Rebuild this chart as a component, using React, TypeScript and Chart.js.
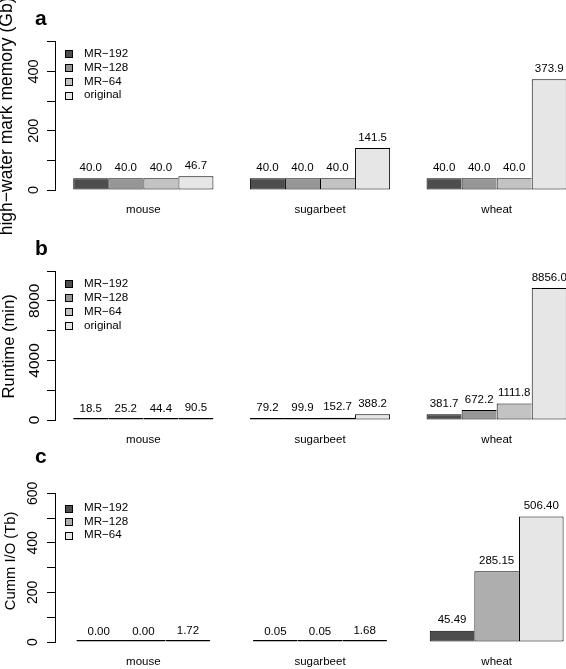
import React, { useEffect, useRef } from 'react';
import { Chart, registerables } from 'chart.js';

Chart.register(...registerables);

// ---------- data ----------
const categories = ['mouse', 'sugarbeet', 'wheat'];

const seriesNames4 = ['MR\u2212192', 'MR\u2212128', 'MR\u221264', 'original'];
const seriesNames3 = ['MR\u2212192', 'MR\u2212128', 'MR\u221264'];

// (a) high-water mark memory (Gb)
const memMR192 = [40.0, 40.0, 40.0];
const memMR128 = [40.0, 40.0, 40.0];
const memMR64 = [40.0, 40.0, 40.0];
const memOriginal = [46.7, 141.5, 373.9];

// (b) runtime (min)
const runMR192 = [18.5, 79.2, 381.7];
const runMR128 = [25.2, 99.9, 672.2];
const runMR64 = [44.4, 152.7, 1111.8];
const runOriginal = [90.5, 388.2, 8856.0];

// (c) cumulative I/O (Tb)
const ioMR192 = [0.0, 0.05, 45.49];
const ioMR128 = [0.0, 0.05, 285.15];
const ioMR64 = [1.72, 1.68, 506.4];

// y-axis tick marks / labels
const memTickStep = 100;
const memAxisMax = 500;
const memTickLabels = [0, 200, 400];
const runTickStep = 2000;
const runAxisMax = 10000;
const runTickLabels = [0, 4000, 8000];
const ioTickStep = 100;
const ioAxisMax = 600;
const ioTickLabels = [0, 200, 400, 600];

// ---------- styles ----------
const FONT = "'Liberation Sans', Arial, Helvetica, sans-serif";
const greys4 = ['#4D4D4D', '#969696', '#C3C3C3', '#E6E6E6'];
const greys3 = ['#4D4D4D', '#AEAEAE', '#E6E6E6'];
const CANVAS_W = 585;

type PanelCfg = {
  letter: string;
  title: string;
  names: string[];
  series: number[][];
  colors: string[];
  decimals: number;
  yMax: number;
  yStep: number;
  yLabels: number[];
  catPct: number;
  canvasTop: number;
  height: number;
  areaTop: number;
  areaBottom: number;
  tickFont: number;
  tickPad: number;
  titleFont: number;
  titleX: number;
  titleDy: number;
  legendFirst: number;
  legendGap: number;
  letterBaseline: number;
};

const panels: PanelCfg[] = [
  {
    letter: 'a',
    title: 'high\u2212water mark memory (Gb)',
    names: seriesNames4,
    series: [memMR192, memMR128, memMR64, memOriginal],
    colors: greys4,
    decimals: 1,
    yMax: memAxisMax,
    yStep: memTickStep,
    yLabels: memTickLabels,
    catPct: 4 / 5.04,
    canvasTop: 0,
    height: 250,
    areaTop: 41.8,
    areaBottom: 190,
    tickFont: 14.5,
    tickPad: 0.7,
    titleFont: 17.5,
    titleX: 6.8,
    titleDy: 0.5,
    legendFirst: 53.5,
    legendGap: 13.9,
    letterBaseline: 25,
  },
  {
    letter: 'b',
    title: 'Runtime (min)',
    names: seriesNames4,
    series: [runMR192, runMR128, runMR64, runOriginal],
    colors: greys4,
    decimals: 1,
    yMax: runAxisMax,
    yStep: runTickStep,
    yLabels: runTickLabels,
    catPct: 4 / 5.04,
    canvasTop: 220,
    height: 230,
    areaTop: 51,
    areaBottom: 200,
    tickFont: 15.5,
    tickPad: -4.7,
    titleFont: 16.6,
    titleX: 9.2,
    titleDy: 0.8,
    legendFirst: 63.8,
    legendGap: 13.9,
    letterBaseline: 35,
  },
  {
    letter: 'c',
    title: 'Cumm I/O (Tb)',
    names: seriesNames3,
    series: [ioMR192, ioMR128, ioMR64],
    colors: greys3,
    decimals: 2,
    yMax: ioAxisMax,
    yStep: ioTickStep,
    yLabels: ioTickLabels,
    catPct: 3 / 3.96,
    canvasTop: 440,
    height: 229,
    areaTop: 53.3,
    areaBottom: 202,
    tickFont: 14,
    tickPad: 1.8,
    titleFont: 14.8,
    titleX: 11.4,
    titleDy: -6.7,
    legendFirst: 68,
    legendGap: 13.5,
    letterBaseline: 23.3,
  },
];

// draws value labels, inset legend, rotated y title and panel letter
const decorPlugin = {
  id: 'decor',
  afterDraw(chart: any, _args: any, opts: any) {
    const ctx: CanvasRenderingContext2D = chart.ctx;
    const area = chart.chartArea;
    const yScale = chart.scales.y;
    ctx.save();

    // value labels above bars
    ctx.fillStyle = '#000';
    ctx.font = `11.5px ${FONT}`;
    ctx.textAlign = 'center';
    ctx.textBaseline = 'middle';
    chart.data.datasets.forEach((ds: any, i: number) => {
      const meta = chart.getDatasetMeta(i);
      meta.data.forEach((bar: any, j: number) => {
        const v = ds.data[j] as number;
        ctx.fillText(v.toFixed(opts.decimals), bar.x, yScale.getPixelForValue(v) - 10.5);
      });
    });

    // legend (top-left, inside plot)
    ctx.font = `11.6px ${FONT}`;
    ctx.textAlign = 'left';
    chart.data.datasets.forEach((ds: any, i: number) => {
      const cy = opts.legendFirst + i * opts.legendGap;
      const bx = Math.round(area.left + 10) + 0.5;
      const by = Math.round(cy - 3.5) + 0.5;
      ctx.fillStyle = ds.backgroundColor;
      ctx.fillRect(bx, by, 7, 7);
      ctx.strokeStyle = '#000';
      ctx.lineWidth = 1;
      ctx.strokeRect(bx, by, 7, 7);
      ctx.fillStyle = '#000';
      ctx.fillText(ds.label, area.left + 29, cy);
    });

    // y-axis title
    ctx.save();
    ctx.translate(opts.titleX, (area.top + area.bottom) / 2 + opts.titleDy);
    ctx.rotate(-Math.PI / 2);
    ctx.font = `${opts.titleFont}px ${FONT}`;
    ctx.textAlign = 'center';
    ctx.textBaseline = 'middle';
    ctx.fillStyle = '#000';
    ctx.fillText(opts.title, 0, 0);
    ctx.restore();

    // panel letter
    ctx.font = `bold 21px ${FONT}`;
    ctx.textAlign = 'left';
    ctx.textBaseline = 'alphabetic';
    ctx.fillStyle = '#000';
    ctx.fillText(opts.letter, 35, opts.letterBaseline);

    ctx.restore();
  },
};

function Panel({ cfg }: { cfg: PanelCfg }) {
  const ref = useRef<HTMLCanvasElement>(null);
  useEffect(() => {
    const canvas = ref.current;
    if (!canvas) return;
    const last = cfg.series.length - 1;
    const chart = new Chart(canvas, {
      type: 'bar',
      data: {
        labels: categories,
        datasets: cfg.series.map((data, i) => ({
          label: cfg.names[i],
          data,
          backgroundColor: cfg.colors[i],
          borderColor: '#000',
          borderWidth: i === last ? 1 : { top: 1, bottom: 1, left: 1, right: 0 },
          borderSkipped: false,
          minBarLength: 2,
          categoryPercentage: cfg.catPct,
          barPercentage: 1,
        })),
      },
      options: {
        animation: false,
        responsive: false,
        maintainAspectRatio: false,
        events: [],
        layout: { padding: { top: cfg.areaTop, left: 0, right: 0, bottom: 0 } },
        plugins: {
          legend: { display: false },
          tooltip: { enabled: false },
          title: { display: false },
          decor: {
            decimals: cfg.decimals,
            legendFirst: cfg.legendFirst,
            legendGap: cfg.legendGap,
            title: cfg.title,
            titleFont: cfg.titleFont,
            titleX: cfg.titleX,
            titleDy: cfg.titleDy,
            letter: cfg.letter,
            letterBaseline: cfg.letterBaseline,
          },
        } as any,
        scales: {
          x: {
            type: 'category',
            offset: true,
            grid: { display: false, drawTicks: false },
            border: { display: false },
            ticks: {
              color: '#000',
              font: { family: FONT, size: 11.5 },
              padding: 13.2,
              autoSkip: false,
              maxRotation: 0,
              minRotation: 0,
            },
            afterFit: (s: any) => {
              s.height = cfg.height - cfg.areaBottom;
            },
          },
          y: {
            type: 'linear',
            min: 0,
            max: cfg.yMax,
            border: { display: true, color: '#000', width: 1 },
            grid: {
              display: true,
              drawOnChartArea: false,
              drawTicks: true,
              tickLength: 8,
              color: '#000',
              lineWidth: 1,
            },
            ticks: {
              stepSize: cfg.yStep,
              autoSkip: false,
              minRotation: 90,
              maxRotation: 90,
              crossAlign: 'center',
              padding: cfg.tickPad,
              color: '#000',
              font: { family: FONT, size: cfg.tickFont },
              callback: (v: any) => (cfg.yLabels.includes(Number(v)) ? String(v) : ''),
            },
            afterFit: (s: any) => {
              s.width = 55;
            },
          },
        } as any,
      },
      plugins: [decorPlugin as any],
    });
    return () => chart.destroy();
  }, [cfg]);
  return (
    <canvas
      ref={ref}
      width={CANVAS_W}
      height={cfg.height}
      style={{ position: 'absolute', left: 0, top: cfg.canvasTop, width: CANVAS_W, height: cfg.height }}
    />
  );
}

export default function App() {
  return (
    <div
      style={{
        position: 'fixed',
        left: 0,
        top: 0,
        width: 566,
        height: 669,
        overflow: 'hidden',
        background: '#fff',
      }}
    >
      {panels.map((p) => (
        <Panel key={p.letter} cfg={p} />
      ))}
    </div>
  );
}
